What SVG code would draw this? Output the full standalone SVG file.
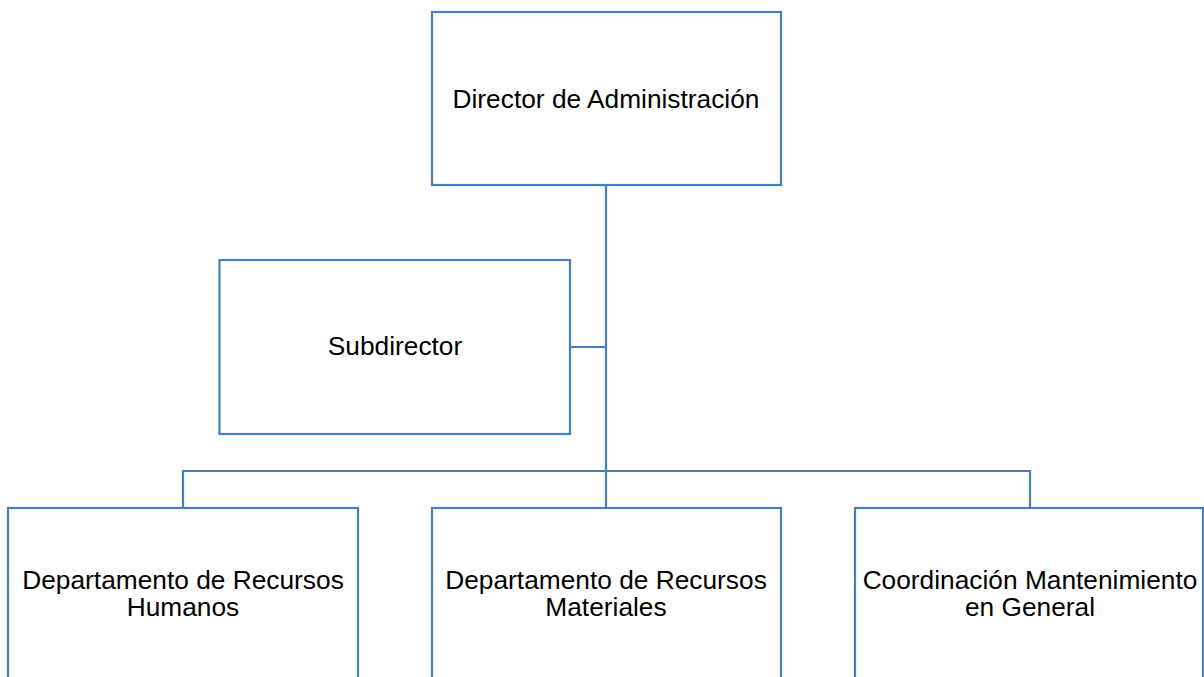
<svg xmlns="http://www.w3.org/2000/svg" width="1204" height="677" viewBox="0 0 1204 677">
<style>
.box{fill:#fff;stroke:#4a7ebb;stroke-width:2.2}
.conn{fill:none;stroke:#4a7ebb;stroke-width:2.2}
.t{font-family:"Liberation Sans",Arial,sans-serif;font-size:26.3px;fill:#000;text-anchor:middle}
</style>
<rect width="1204" height="677" fill="#fff"/>
<g id="connectors">
<path class="conn" d="M606,185 V471"/>
<path class="conn" d="M570,347 H606"/>
<path class="conn" d="M183,508 V471 H1030 V508"/>
<path class="conn" d="M606,471 V508"/>
</g>
<g id="director">
<rect class="box" x="432" y="12" width="349" height="173"/>
<text class="t" x="606" y="107.5">Director de Administración</text>
</g>
<g id="subdirector">
<rect class="box" x="219.5" y="260" width="350.5" height="174"/>
<text class="t" x="395" y="355">Subdirector</text>
</g>
<g id="rrhh">
<rect class="box" x="8" y="508" width="350" height="190"/>
<text class="t" x="183" y="589">Departamento de Recursos</text>
<text class="t" x="183" y="616">Humanos</text>
</g>
<g id="rrmm">
<rect class="box" x="432" y="508" width="349" height="190"/>
<text class="t" x="606" y="589">Departamento de Recursos</text>
<text class="t" x="606" y="616">Materiales</text>
</g>
<g id="mantenimiento">
<rect class="box" x="855" y="508" width="348" height="190"/>
<text class="t" x="1030" y="589">Coordinación Mantenimiento</text>
<text class="t" x="1030" y="616">en General</text>
</g>
</svg>
